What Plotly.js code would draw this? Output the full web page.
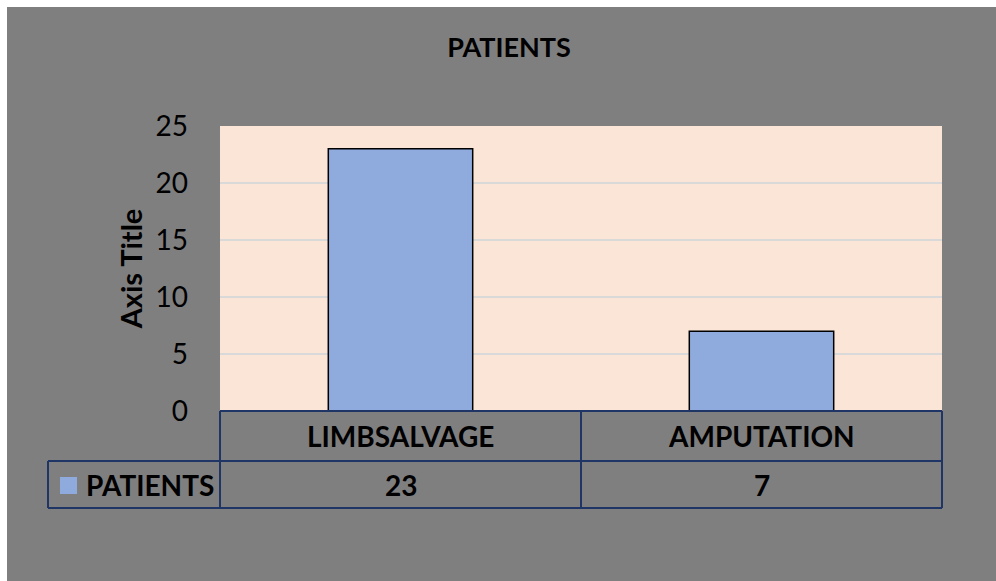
<!DOCTYPE html>
<html>
<head>
<meta charset="utf-8">
<script src="https://cdn.plot.ly/plotly-3.0.1.min.js"></script>
<style>html,body{margin:0;padding:0;background:#fff}</style>
</head>
<body>
<div id="chart" style="width:996px;height:581px"></div>
<script>
const categories = ["LIMBSALVAGE", "AMPUTATION"];
const seriesName = "PATIENTS";
const values = [23, 7];
const yTicks = [0, 5, 10, 15, 20, 25];

const FONT = "Lato, 'Open Sans', sans-serif";
const NAVY = "#1f3566";
const W = 996, H = 581;
const L = 220, R = 942, T = 126, B = 411;
const pw = R - L, ph = B - T;
const px = x => (x - L) / pw;
const py = y => (B - y) / ph;

const shapes = [
  // white strips top and left
  {type:'rect', xref:'paper', yref:'paper', x0:px(-5), x1:px(W+5), y0:py(7), y1:py(-5), fillcolor:'#ffffff', line:{width:0}, layer:'below'},
  {type:'rect', xref:'paper', yref:'paper', x0:px(-5), x1:px(7), y0:py(H+5), y1:py(-5), fillcolor:'#ffffff', line:{width:0}, layer:'below'},
  // table lines
  {type:'line', xref:'paper', yref:'paper', x0:0, x1:1, y0:py(411), y1:py(411), line:{color:NAVY, width:2}},
  {type:'line', xref:'paper', yref:'paper', x0:px(48), x1:1, y0:py(461), y1:py(461), line:{color:NAVY, width:2}},
  {type:'line', xref:'paper', yref:'paper', x0:px(48), x1:1, y0:py(508), y1:py(508), line:{color:NAVY, width:2}},
  {type:'line', xref:'paper', yref:'paper', x0:px(48), x1:px(48), y0:py(461), y1:py(508), line:{color:NAVY, width:2}},
  {type:'line', xref:'paper', yref:'paper', x0:0, x1:0, y0:py(411), y1:py(508), line:{color:NAVY, width:2}},
  {type:'line', xref:'paper', yref:'paper', x0:1, x1:1, y0:py(411), y1:py(508), line:{color:NAVY, width:2}},
  // legend key
  {type:'rect', xref:'paper', yref:'paper', x0:px(60), x1:px(77), y0:py(494), y1:py(477), fillcolor:'#8faadc', line:{width:0}}
];
// category dividers between columns
for (let i = 0; i < categories.length - 1; i++) {
  shapes.push({type:'line', xref:'x', yref:'paper', x0:i + 0.5, x1:i + 0.5, y0:py(411), y1:py(508), line:{color:NAVY, width:2}});
}

const annotations = [];
categories.forEach((c, i) => {
  annotations.push({xref:'x', yref:'paper', x:c, y:py(436), text:'<b>' + c + '</b>', showarrow:false, xanchor:'center', yanchor:'middle', font:{family:FONT, size:28, color:'#000'}});
  annotations.push({xref:'x', yref:'paper', x:c, y:py(485), text:'<b>' + values[i] + '</b>', showarrow:false, xanchor:'center', yanchor:'middle', font:{family:FONT, size:28, color:'#000'}});
});
annotations.push({xref:'paper', yref:'paper', x:px(84), y:py(485), text:'<b>' + seriesName + '</b>', showarrow:false, xanchor:'left', yanchor:'middle', font:{family:FONT, size:28, color:'#000'}});

const data = [{
  type:'bar', x:categories, y:values, name:seriesName,
  marker:{color:'#8faadc', line:{color:'#000000', width:1.5}},
  width:0.4, hoverinfo:'skip'
}];

const layout = {
  width:W, height:H,
  margin:{l:L, r:W - R, t:T, b:H - B, pad:0},
  paper_bgcolor:'#7f7f7f',
  plot_bgcolor:'#fbe5d6',
  showlegend:false,
  title:{text:'<b>PATIENTS</b>', x:509 / W, xref:'container', xanchor:'center', y:1 - 48 / H, yref:'container', yanchor:'middle', font:{family:FONT, size:27, color:'#000'}},
  xaxis:{type:'category', range:[-0.5, categories.length - 0.5], showticklabels:false, showgrid:false, zeroline:false, showline:false, ticks:''},
  yaxis:{range:[0, 25], tickvals:yTicks, ticktext:yTicks.map(String), showgrid:true, gridcolor:'#d9d9d9', gridwidth:1.5, zeroline:false, showline:false, ticks:'', ticklabelstandoff:31,
    tickfont:{family:FONT, size:28, color:'#000'},
    title:{text:'<b>Axis Title</b>', standoff:4, font:{family:FONT, size:29, color:'#000'}}},
  shapes:shapes,
  annotations:annotations
};

Plotly.newPlot('chart', data, layout, {displayModeBar:false, staticPlot:true});
</script>
</body>
</html>
